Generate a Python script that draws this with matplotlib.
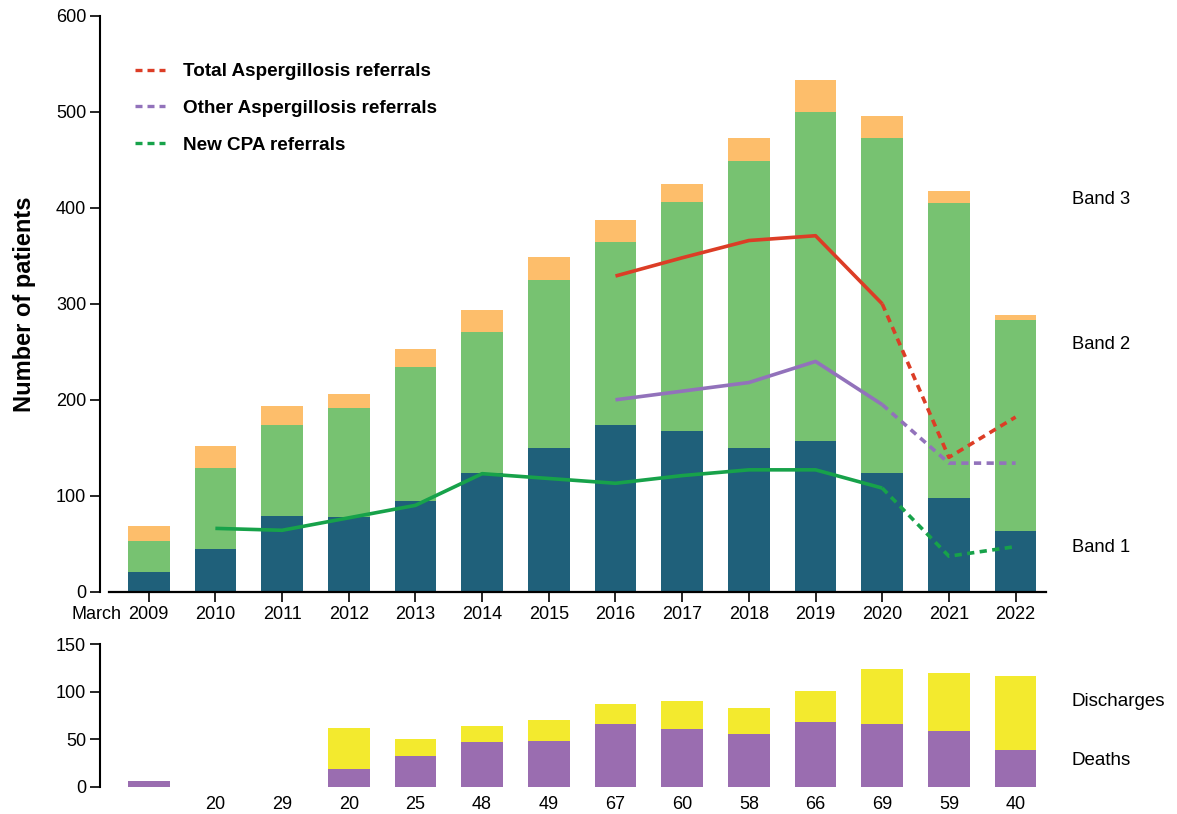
import matplotlib
matplotlib.use("Agg")
import matplotlib.pyplot as plt
from matplotlib.lines import Line2D
import numpy as np

plt.rcParams['font.family'] = ['Liberation Sans', 'DejaVu Sans']

years = ['2009', '2010', '2011', '2012', '2013', '2014', '2015',
         '2016', '2017', '2018', '2019', '2020', '2021', '2022']

# stacked bars, top panel
band1 = [21, 45, 79, 78, 95, 124, 150, 174, 168, 150, 157, 124, 98, 63]
band2 = [32, 84, 95, 113, 139, 147, 175, 190, 238, 299, 343, 349, 307, 220]
band3 = [15, 23, 20, 15, 19, 23, 24, 23, 19, 24, 33, 23, 13, 5]

# referral lines (None = no value)
total_ref = [None] * 7 + [329, 348, 366, 371, 300, 140, 182]
other_ref = [None] * 7 + [200, 209, 218, 240, 195, 134, 134]
cpa_ref = [None, 66, 64, 77, 90, 123, 118, 113, 121, 127, 127, 108, 37, 47]

# bottom panel
deaths = [6, 0, 0, 19, 32, 47, 48, 66, 61, 56, 68, 66, 59, 39]
discharges = [0, 0, 0, 43, 18, 17, 22, 21, 29, 27, 33, 58, 61, 78]
bottom_labels = ['', '20', '29', '20', '25', '48', '49', '67', '60', '58', '66', '69', '59', '40']

c_b1 = '#1f607a'
c_b2 = '#77c271'
c_b3 = '#fdbe6b'
c_red = '#dc3d26'
c_purple = '#9272bb'
c_green = '#17a24a'
c_death = '#9a6db0'
c_dis = '#f3ea2e'

FS = 13

x = np.arange(len(years))
fig = plt.figure(figsize=(11.77, 8.14), dpi=100)

xl = (-0.73, 13.5)
left = 100 / 1177
width = (148.5 + 13.5 * 66.7 - 100) / 1177

ax = fig.add_axes([left, 1 - 591.7 / 814, width, (591.7 - 16) / 814])
ax.bar(x, band1, width=0.625, color=c_b1)
ax.bar(x, band2, width=0.625, bottom=band1, color=c_b2)
ax.bar(x, band3, width=0.625, bottom=np.add(band1, band2), color=c_b3)


def draw_ref(vals, color):
    xs = [i for i, v in enumerate(vals) if v is not None and i <= 11]
    ax.plot(xs, [vals[i] for i in xs], color=color, lw=2.6,
            solid_joinstyle='round', solid_capstyle='butt')
    ax.plot([11, 12, 13], [vals[11], vals[12], vals[13]], color=color, lw=2.6,
            dashes=(2.0, 1.5))


draw_ref(total_ref, c_red)
draw_ref(other_ref, c_purple)
draw_ref(cpa_ref, c_green)

ax.set_xlim(*xl)
ax.set_ylim(0, 600)
ax.set_yticks([0, 100, 200, 300, 400, 500, 600])
ax.set_xticks(x)
ax.set_xticklabels(years)
for s in ['top', 'right']:
    ax.spines[s].set_visible(False)
ax.spines['left'].set_linewidth(1.5)
ax.spines['bottom'].set_linewidth(1.6)
ax.spines['bottom'].set_bounds(-0.59, 13.46)
ax.tick_params(axis='both', direction='out', length=7, width=1.2,
               labelsize=FS, pad=3)
ax.set_ylabel('Number of patients', fontsize=17, fontweight='bold')
ax.yaxis.set_label_coords(-0.067, 0.5)
ax.text(-0.41, -0.024, 'March', transform=ax.get_xaxis_transform(),
        ha='right', va='top', fontsize=FS)

for txt, yv in [('Band 3', 409), ('Band 2', 258), ('Band 1', 46)]:
    ax.text(13.84, yv, txt, fontsize=13.2, va='center', ha='left', clip_on=False)

handles = [Line2D([], [], color=c, lw=2.4, dashes=(2.1, 1.5))
           for c in (c_red, c_purple, c_green)]
ax.legend(handles, ['Total Aspergillosis referrals', 'Other Aspergillosis referrals',
                    'New CPA referrals'],
          loc='upper left', bbox_to_anchor=(135 / 1177, 1 - 63 / 814),
          bbox_transform=fig.transFigure, frameon=False, borderpad=0,
          prop={'weight': 'bold', 'size': 13.6}, handlelength=1.6,
          handletextpad=0.95, labelspacing=1.03, borderaxespad=0)

# bottom panel
ax2 = fig.add_axes([left, 1 - 786.7 / 814, width, (786.7 - 644.3) / 814])
ax2.bar(x, deaths, width=0.625, color=c_death)
ax2.bar(x, discharges, width=0.625, bottom=deaths, color=c_dis)
ax2.set_xlim(*xl)
ax2.set_ylim(0, 150)
ax2.set_yticks([0, 50, 100, 150])
ax2.set_xticks([])
for s in ['top', 'right', 'bottom']:
    ax2.spines[s].set_visible(False)
ax2.spines['left'].set_linewidth(1.5)
ax2.tick_params(axis='y', direction='out', length=7, width=1.2, labelsize=FS, pad=3)
for i, lab in enumerate(bottom_labels):
    ax2.text(i, -0.1285, lab, transform=ax2.get_xaxis_transform(),
             ha='center', va='center', fontsize=FS)
ax2.text(13.84, 90, 'Discharges', fontsize=13.5, va='center', ha='left', clip_on=False)
ax2.text(13.84, 28, 'Deaths', fontsize=13.5, va='center', ha='left', clip_on=False)

fig.savefig('out.png', dpi=100)
